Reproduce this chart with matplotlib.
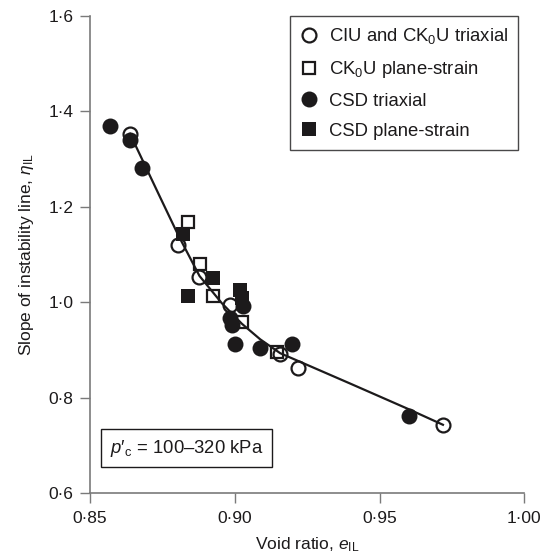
import matplotlib
matplotlib.use("Agg")
import matplotlib.pyplot as plt
from matplotlib.lines import Line2D

plt.rcParams['font.family'] = ['Liberation Sans', 'DejaVu Sans']
plt.rcParams['mathtext.fontset'] = 'custom'
plt.rcParams['mathtext.rm'] = 'Liberation Sans'
plt.rcParams['mathtext.it'] = 'Liberation Sans:italic'
plt.rcParams['mathtext.bf'] = 'Liberation Sans:bold'

# ---- data ----
ciu_e   = [0.8638, 0.8805, 0.8878, 0.8984, 0.9157, 0.9220, 0.9719]
ciu_eta = [1.353, 1.120, 1.052, 0.994, 0.891, 0.861, 0.743]

ck0u_ps_e   = [0.8840, 0.8880, 0.8926, 0.9024, 0.9145]
ck0u_ps_eta = [1.167, 1.081, 1.012, 0.959, 0.896]

csd_tx_e   = [0.8569, 0.8638, 0.8679, 0.9030, 0.8984, 0.8990, 0.9000, 0.9088, 0.9197, 0.9603]
csd_tx_eta = [1.370, 1.340, 1.281, 0.992, 0.966, 0.952, 0.912, 0.903, 0.912, 0.762]

csd_ps_e   = [0.8820, 0.8926, 0.8840, 0.9018, 0.9024]
csd_ps_eta = [1.142, 1.051, 1.012, 1.026, 1.008]

trend_e   = [0.8638, 0.8742, 0.8805, 0.8878, 0.8955, 0.9024, 0.9088, 0.9157, 0.9400, 0.9603, 0.9719]
trend_eta = [1.353, 1.220, 1.140, 1.055, 0.998, 0.955, 0.922, 0.893, 0.829, 0.775, 0.743]

xticks = [0.85, 0.90, 0.95, 1.00]
xtick_labels = ['0·85', '0·90', '0·95', '1·00']
yticks = [0.6, 0.8, 1.0, 1.2, 1.4, 1.6]
ytick_labels = ['0·6', '0·8', '1·0', '1·2', '1·4', '1·6']

legend_labels = ['CIU and CK$_0$U triaxial', 'CK$_0$U plane-strain',
                 'CSD triaxial', 'CSD plane-strain']

ink = '#1c1a1b'
axis_grey = '#7a7a7a'

fig = plt.figure(figsize=(5.49, 5.58), dpi=100)
ax = fig.add_axes([0.164, 0.1165, 0.791, 0.855])

ax.plot(trend_e, trend_eta, color=ink, lw=1.6, zorder=2, solid_joinstyle='round')
ax.plot(ciu_e, ciu_eta, ls='none', marker='o', ms=10, mfc='none', mec=ink, mew=1.6, zorder=3)
ax.plot(ck0u_ps_e, ck0u_ps_eta, ls='none', marker='s', ms=9, mfc='none', mec=ink, mew=1.6, zorder=3)
ax.plot(csd_tx_e, csd_tx_eta, ls='none', marker='o', ms=11.5, mfc=ink, mec=ink, mew=0, zorder=4)
ax.plot(csd_ps_e, csd_ps_eta, ls='none', marker='s', ms=9.5, mfc=ink, mec=ink, mew=0, zorder=4)

ax.set_xlim(0.85, 1.00)
ax.set_ylim(0.6, 1.6)
ax.set_xticks(xticks)
ax.set_xticklabels(xtick_labels)
ax.set_yticks(yticks)
ax.set_yticklabels(ytick_labels)

for s in ['top', 'right']:
    ax.spines[s].set_visible(False)
for s in ['left', 'bottom']:
    ax.spines[s].set_color(axis_grey)
    ax.spines[s].set_linewidth(1.2)
ax.tick_params(direction='out', length=7, width=1.0, color=axis_grey,
               labelsize=12.5, labelcolor=ink)
ax.tick_params(axis='y', pad=5)
ax.tick_params(axis='x', pad=6)

ax.set_xlabel(r'Void ratio, $e_{\mathrm{IL}}$', fontsize=12.5, color=ink, labelpad=7)
ax.set_ylabel(r'Slope of instability line, $\eta_{\mathrm{IL}}$', fontsize=12.5, color=ink, labelpad=9)

handles = [
    Line2D([], [], ls='none', marker='o', ms=10, mfc='none', mec=ink, mew=1.6),
    Line2D([], [], ls='none', marker='s', ms=9, mfc='none', mec=ink, mew=1.6),
    Line2D([], [], ls='none', marker='o', ms=11.5, mfc=ink, mec=ink, mew=0),
    Line2D([], [], ls='none', marker='s', ms=9.5, mfc=ink, mec=ink, mew=0),
]
leg = ax.legend(handles, legend_labels, loc='upper right', bbox_to_anchor=(0.986, 1.0),
                borderaxespad=0, fancybox=False, frameon=True, fontsize=13.3,
                handlelength=1.0, handletextpad=0.55, labelspacing=0.7,
                borderpad=0.55)
leg.get_frame().set_edgecolor(ink)
leg.get_frame().set_linewidth(1.0)
for t in leg.get_texts():
    t.set_color(ink)

ax.text(0.222, 0.094, r"$p$′${}_{\mathrm{c}}$ = 100–320 kPa", transform=ax.transAxes,
        ha='center', va='center', fontsize=13.3, color=ink,
        bbox=dict(boxstyle='square,pad=0.45', fc='white', ec=ink, lw=1.0))

fig.savefig('out.png', dpi=100)
